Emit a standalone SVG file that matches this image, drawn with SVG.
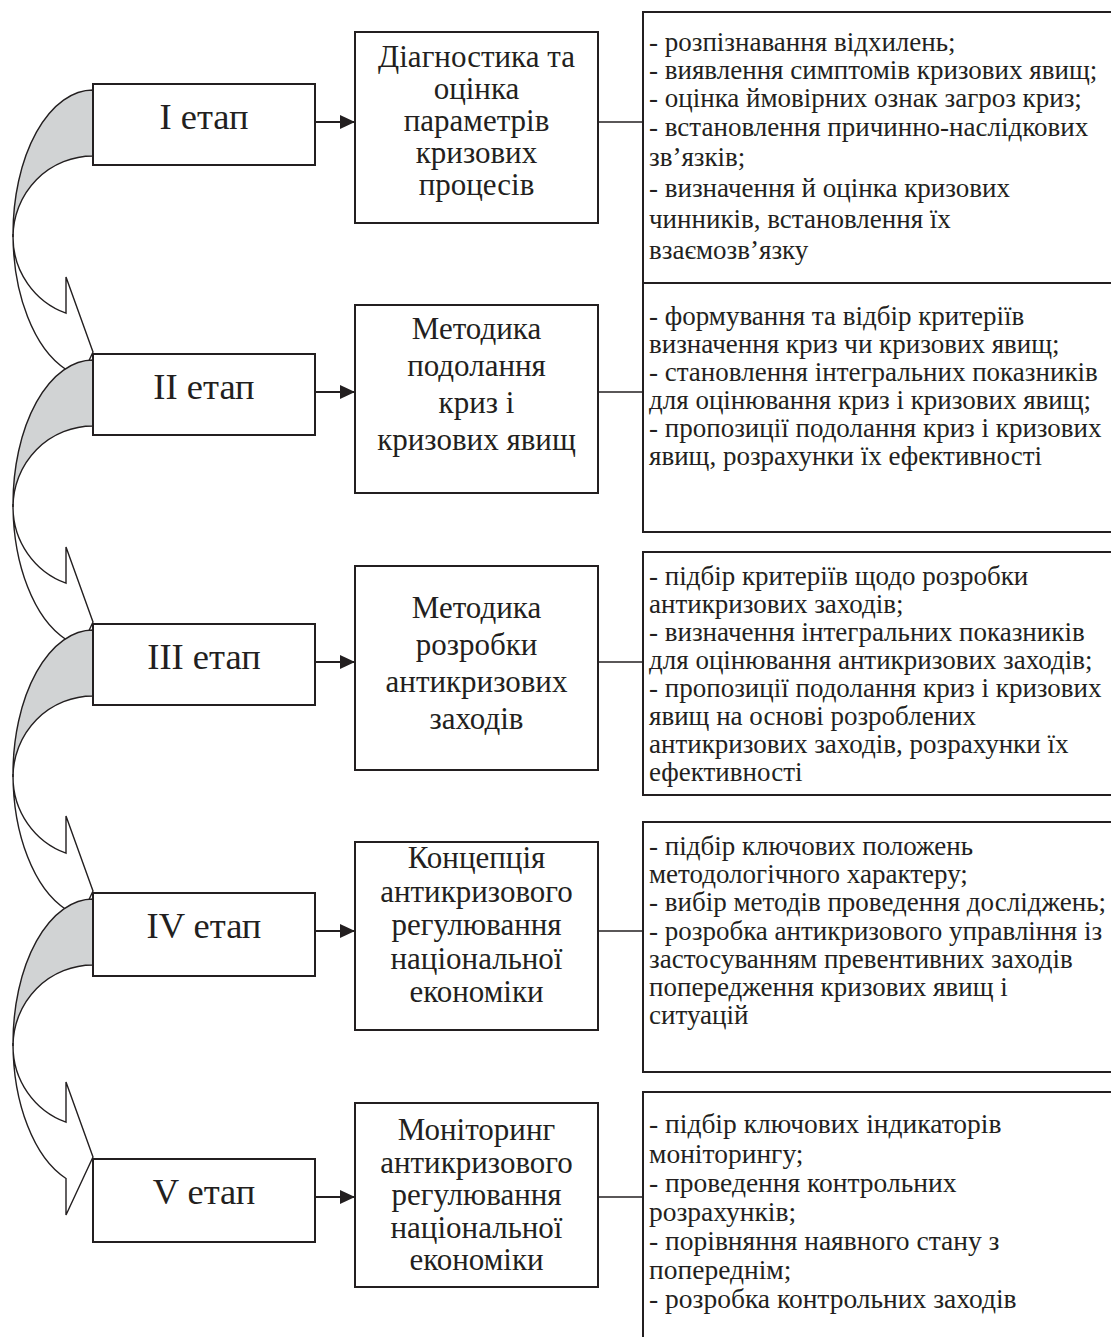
<svg xmlns="http://www.w3.org/2000/svg" width="1111" height="1337" viewBox="0 0 1111 1337">
<style>
text{font-family:"Liberation Serif","Times New Roman",serif;fill:#231f20}
.stage{font-size:36.5px;text-anchor:middle}
.mid{font-size:31px;text-anchor:middle}
.desc{font-size:27px}
.desc5{font-size:27.5px}
.box{fill:#fff;stroke:#231f20;stroke-width:2}
.body{fill:#fff;stroke:#231f20;stroke-width:1.4;stroke-linejoin:miter}
.back{fill:#d1d3d4;stroke:#231f20;stroke-width:1.4}
.conn{stroke:#231f20;stroke-width:2.2;fill:none}
.link{stroke:#231f20;stroke-width:1.3;fill:none}
</style>
<defs>
<marker id="ah" markerUnits="userSpaceOnUse" markerWidth="16" markerHeight="14" refX="15" refY="7" orient="auto">
<path d="M0,0 L15,7 L0,14 Z" fill="#231f20"/>
</marker>
</defs>
<g id="connectors">
<path class="body" d="M13,237 A80 81 0 0 0 66,313.2 L66,277 L93,352 L66,410 L66,369.5 A80 144 0 0 1 13,234 Z"/>
<path class="body" d="M13,507 A80 81 0 0 0 66,583.2 L66,547 L93,622 L66,680 L66,639.5 A80 144 0 0 1 13,504 Z"/>
<path class="body" d="M13,777 A80 81 0 0 0 66,853.2 L66,816 L93,891 L66,949 L66,909.5 A80 144 0 0 1 13,774 Z"/>
<path class="body" d="M13,1046 A80 81 0 0 0 66,1122.2 L66,1082 L93,1157 L66,1215 L66,1178.5 A80 144 0 0 1 13,1043 Z"/>
<path class="back" d="M93,90 A80 144 0 0 0 13,234 L13,237 A80 81 0 0 1 93,156 Z"/>
<path class="back" d="M93,360 A80 144 0 0 0 13,504 L13,507 A80 81 0 0 1 93,426 Z"/>
<path class="back" d="M93,630 A80 144 0 0 0 13,774 L13,777 A80 81 0 0 1 93,696 Z"/>
<path class="back" d="M93,899 A80 144 0 0 0 13,1043 L13,1046 A80 81 0 0 1 93,965 Z"/>
<line class="conn" x1="315" y1="122" x2="355" y2="122" marker-end="url(#ah)"/>
<line class="conn" x1="315" y1="392" x2="355" y2="392" marker-end="url(#ah)"/>
<line class="conn" x1="315" y1="662" x2="355" y2="662" marker-end="url(#ah)"/>
<line class="conn" x1="315" y1="931" x2="355" y2="931" marker-end="url(#ah)"/>
<line class="conn" x1="315" y1="1197" x2="355" y2="1197" marker-end="url(#ah)"/>
<line class="link" x1="598" y1="122" x2="643" y2="122"/>
<line class="link" x1="598" y1="392" x2="643" y2="392"/>
<line class="link" x1="598" y1="662" x2="643" y2="662"/>
<line class="link" x1="598" y1="931" x2="643" y2="931"/>
<line class="link" x1="598" y1="1197" x2="643" y2="1197"/>
</g>
<g id="stage1"><rect class="box" x="93" y="84" width="222" height="81"/><text class="stage" x="204" y="129">I етап</text></g>
<g id="stage2"><rect class="box" x="93" y="354" width="222" height="81"/><text class="stage" x="204" y="399">II етап</text></g>
<g id="stage3"><rect class="box" x="93" y="624" width="222" height="81"/><text class="stage" x="204" y="669">III етап</text></g>
<g id="stage4"><rect class="box" x="93" y="893" width="222" height="83"/><text class="stage" x="204" y="938">IV етап</text></g>
<g id="stage5"><rect class="box" x="93" y="1159" width="222" height="83"/><text class="stage" x="204" y="1204">V етап</text></g>

<g id="method1"><rect class="box" x="355" y="32" width="243" height="191"/>
<text class="mid" x="476.5" y="67">Діагностика та</text>
<text class="mid" x="476.5" y="99">оцінка</text>
<text class="mid" x="476.5" y="131">параметрів</text>
<text class="mid" x="476.5" y="163">кризових</text>
<text class="mid" x="476.5" y="195">процесів</text></g>
<g id="method2"><rect class="box" x="355" y="305" width="243" height="188"/>
<text class="mid" x="476.5" y="339">Методика</text>
<text class="mid" x="476.5" y="376">подолання</text>
<text class="mid" x="476.5" y="413">криз і</text>
<text class="mid" x="476.5" y="450">кризових явищ</text></g>
<g id="method3"><rect class="box" x="355" y="566" width="243" height="204"/>
<text class="mid" x="476.5" y="617.5">Методика</text>
<text class="mid" x="476.5" y="654.5">розробки</text>
<text class="mid" x="476.5" y="691.5">антикризових</text>
<text class="mid" x="476.5" y="728.5">заходів</text></g>
<g id="method4"><rect class="box" x="355" y="842" width="243" height="188"/>
<text class="mid" x="476.5" y="868">Концепція</text>
<text class="mid" x="476.5" y="901.5">антикризового</text>
<text class="mid" x="476.5" y="935">регулювання</text>
<text class="mid" x="476.5" y="968.5">національної</text>
<text class="mid" x="476.5" y="1002">економіки</text></g>
<g id="method5"><rect class="box" x="355" y="1103" width="243" height="184"/>
<text class="mid" x="476.5" y="1140">Моніторинг</text>
<text class="mid" x="476.5" y="1172.5">антикризового</text>
<text class="mid" x="476.5" y="1205">регулювання</text>
<text class="mid" x="476.5" y="1237.5">національної</text>
<text class="mid" x="476.5" y="1270">економіки</text></g>

<g id="desc1"><rect class="box" x="643" y="12" width="480" height="271"/>
<text class="desc" x="649" y="51">- розпізнавання відхилень;</text>
<text class="desc" x="649" y="79">- виявлення симптомів кризових явищ;</text>
<text class="desc" x="649" y="107">- оцінка ймовірних ознак загроз криз;</text>
<text class="desc" x="649" y="136">- встановлення причинно-наслідкових</text>
<text class="desc" x="649" y="166">зв’язків;</text>
<text class="desc" x="649" y="197">- визначення й оцінка кризових</text>
<text class="desc" x="649" y="228">чинників, встановлення їх</text>
<text class="desc" x="649" y="259">взаємозв’язку</text></g>
<g id="desc2"><rect class="box" x="643" y="283" width="480" height="249"/>
<text class="desc" x="649" y="325">- формування та відбір критеріїв</text>
<text class="desc" x="649" y="353">визначення криз чи кризових явищ;</text>
<text class="desc" x="649" y="381">- становлення інтегральних показників</text>
<text class="desc" x="649" y="409">для оцінювання криз і кризових явищ;</text>
<text class="desc" x="649" y="437">- пропозиції подолання криз і кризових</text>
<text class="desc" x="649" y="465">явищ, розрахунки їх ефективності</text></g>
<g id="desc3"><rect class="box" x="643" y="552" width="480" height="243"/>
<text class="desc" x="649" y="585">- підбір критеріїв щодо розробки</text>
<text class="desc" x="649" y="613">антикризових заходів;</text>
<text class="desc" x="649" y="641">- визначення інтегральних показників</text>
<text class="desc" x="649" y="669">для оцінювання антикризових заходів;</text>
<text class="desc" x="649" y="697">- пропозиції подолання криз і кризових</text>
<text class="desc" x="649" y="725">явищ на основі розроблених</text>
<text class="desc" x="649" y="753">антикризових заходів, розрахунки їх</text>
<text class="desc" x="649" y="781">ефективності</text></g>
<g id="desc4"><rect class="box" x="643" y="822" width="480" height="250"/>
<text class="desc" x="649" y="855">- підбір ключових положень</text>
<text class="desc" x="649" y="883">методологічного характеру;</text>
<text class="desc" x="649" y="911">- вибір методів проведення досліджень;</text>
<text class="desc" x="649" y="940">- розробка антикризового управління із</text>
<text class="desc" x="649" y="968">застосуванням превентивних заходів</text>
<text class="desc" x="649" y="996">попередження кризових явищ і</text>
<text class="desc" x="649" y="1024">ситуацій</text></g>
<g id="desc5"><rect class="box" x="643" y="1092" width="480" height="260"/>
<text class="desc5" x="649" y="1133">- підбір ключових індикаторів</text>
<text class="desc5" x="649" y="1163">моніторингу;</text>
<text class="desc5" x="649" y="1192">- проведення контрольних</text>
<text class="desc5" x="649" y="1221">розрахунків;</text>
<text class="desc5" x="649" y="1250">- порівняння наявного стану з</text>
<text class="desc5" x="649" y="1279">попереднім;</text>
<text class="desc5" x="649" y="1308">- розробка контрольних заходів</text></g>
</svg>
